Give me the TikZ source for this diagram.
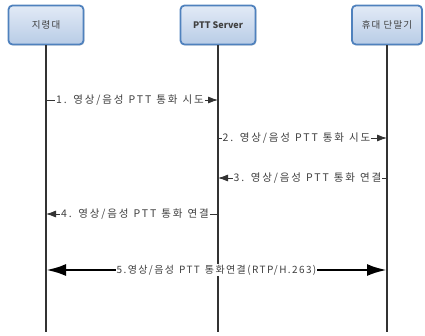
\documentclass[tikz,border=0pt]{standalone}
\usepackage{fontspec}
\setmainfont{Noto Sans CJK KR}
\newfontfamily\krwide[LetterSpace=18]{Noto Sans CJK KR}
\newfontfamily\krmid[LetterSpace=14]{Noto Sans CJK KR}
\newfontfamily\krbox[LetterSpace=12]{Noto Sans CJK KR}
\newcommand\lblspace{\spaceskip=5pt\relax}
\usetikzlibrary{arrows.meta,shadows}
\definecolor{boxline}{RGB}{79,129,189}
\definecolor{boxtop}{RGB}{226,234,246}
\definecolor{boxbot}{RGB}{184,204,230}
\tikzset{
  entity/.style={draw=boxline,line width=1.8pt,rounded corners=4pt,top color=boxtop,bottom color=boxbot,
    minimum width=75pt,minimum height=39pt,font=\krbox\fontsize{9.5}{10}\selectfont,text=black!75,
    drop shadow={shadow xshift=1pt,shadow yshift=-1pt,opacity=0.25}},
  life/.style={line width=1.6pt,black!80},
  msg/.style={line width=0.8pt,black!80,-{Latex[length=10pt,width=7pt]}},
  bigmsg/.style={line width=2.8pt,black,{Latex[length=20pt,width=12pt]}-{Latex[length=20pt,width=12pt]}},
  lbl/.style={fill=white,inner sep=1pt,text=black!75,font=\krwide\fontsize{10.5}{12}\selectfont\lblspace}
}
\begin{document}
\begin{tikzpicture}[x=1pt,y=-1pt]
        \useasboundingbox (0,0) rectangle (425,335);
        \node[entity] (ctrl) at (46,25) {지령대};
        \node[entity,font=\fontsize{9}{10}\selectfont\bfseries] (srv) at (218,25) {PTT Server};
        \node[entity,minimum width=70pt] (term) at (387,25) {휴대 단말기};
        \coordinate (end) at (0,332);
        \draw[life] (ctrl) -- (ctrl |- end);
        \draw[life] (srv) -- (srv |- end);
        \draw[life] (term) -- (term |- end);
        \coordinate (m1) at (0,100);
        \coordinate (m2) at (0,138);
        \coordinate (m3) at (0,178);
        \coordinate (m4) at (0,214);
        \coordinate (m5) at (0,270);
        \draw[msg] (ctrl |- m1) -- node[lbl,xshift=-2pt] {1. 영상/음성 PTT 통화 시도} (srv |- m1);
        \draw[msg] (srv |- m2) -- node[lbl,xshift=-6pt] {2. 영상/음성 PTT 통화 시도} (term |- m2);
        \draw[msg] (term |- m3) -- node[lbl,xshift=5pt] {3. 영상/음성 PTT 통화 연결} (srv |- m3);
        \draw[msg] (srv |- m4) -- node[lbl,xshift=3pt] {4. 영상/음성 PTT 통화 연결} (ctrl |- m4);
        \draw[bigmsg] (ctrl |- m5) -- node[lbl,font=\krmid\fontsize{10}{12}\selectfont\lblspace] {5.영상/음성 PTT 통화연결(RTP/H.263)} (term |- m5);
    \end{tikzpicture}
\end{document}
